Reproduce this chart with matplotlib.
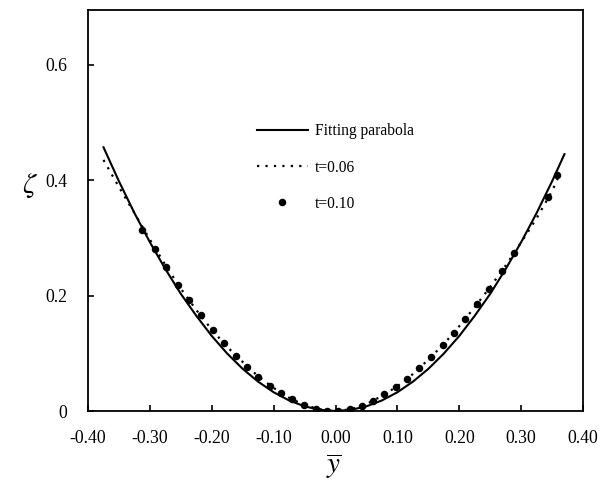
import matplotlib
matplotlib.use("Agg")
import matplotlib.pyplot as plt

plt.rcParams['font.family'] = ['Liberation Serif', 'DejaVu Serif']
plt.rcParams['mathtext.fontset'] = 'stix'

# Fitting parabola
fit_x = [-0.375, -0.35, -0.325, -0.30, -0.275, -0.25, -0.225, -0.20, -0.175, -0.15,
         -0.125, -0.10, -0.075, -0.05, -0.025, 0.0, 0.025, 0.05, 0.075, 0.10,
         0.125, 0.15, 0.175, 0.20, 0.225, 0.25, 0.275, 0.30, 0.325, 0.35, 0.37]
fit_z = [0.457, 0.398, 0.343, 0.2925, 0.246, 0.203, 0.165, 0.130, 0.0995, 0.073,
         0.0508, 0.0325, 0.0183, 0.0081, 0.002, 0.0, 0.002, 0.0081, 0.0183, 0.0325,
         0.0508, 0.073, 0.0995, 0.130, 0.165, 0.203, 0.246, 0.2925, 0.343, 0.398, 0.445]

# t = 0.06 (dotted)
t06_x = [-0.375, -0.35, -0.325, -0.30, -0.275, -0.25, -0.225, -0.20, -0.175, -0.15,
         -0.125, -0.10, -0.075, -0.05, -0.025, 0.0, 0.025, 0.05, 0.075, 0.10,
         0.125, 0.15, 0.175, 0.20, 0.225, 0.25, 0.275, 0.30, 0.325, 0.35, 0.362]
t06_z = [0.435, 0.388, 0.343, 0.297, 0.253, 0.212, 0.175, 0.141, 0.111, 0.085,
         0.060, 0.040, 0.023, 0.010, 0.003, 0.0, 0.003, 0.012, 0.026, 0.043,
         0.064, 0.089, 0.116, 0.147, 0.180, 0.215, 0.252, 0.292, 0.334, 0.381, 0.410]

# t = 0.10 (dots)
t10_x = [-0.312, -0.292, -0.274, -0.255, -0.237, -0.218, -0.198, -0.180, -0.161, -0.143,
         -0.125, -0.106, -0.088, -0.070, -0.051, -0.032, -0.014, 0.004, 0.023, 0.042,
         0.060, 0.079, 0.097, 0.116, 0.135, 0.154, 0.173, 0.192, 0.210, 0.229,
         0.248, 0.269, 0.288, 0.343, 0.358]
t10_z = [0.313, 0.281, 0.249, 0.219, 0.192, 0.166, 0.141, 0.118, 0.096, 0.077,
         0.059, 0.044, 0.031, 0.020, 0.010, 0.004, 0.0005, 0.0, 0.003, 0.009,
         0.017, 0.029, 0.041, 0.055, 0.074, 0.093, 0.114, 0.136, 0.160, 0.186,
         0.212, 0.242, 0.274, 0.371, 0.409]

xticks = [-0.40, -0.30, -0.20, -0.10, 0.00, 0.10, 0.20, 0.30, 0.40]
xticklabels = ['-0.40', '-0.30', '-0.20', '-0.10', '0.00', '0.10', '0.20', '0.30', '0.40']
yticks = [0, 0.2, 0.4, 0.6]
yticklabels = ['0', '0.2', '0.4', '0.6']

fig = plt.figure(figsize=(6.0, 4.94), dpi=100)
ax = fig.add_axes([0.1467, 0.168, 0.825, 0.812])

ax.plot(fit_x, fit_z, color='black', lw=1.5, label='Fitting parabola')
ax.plot(t06_x, t06_z, color='black', lw=1.6, linestyle=(0, (1.0, 2.8)), label='t=0.06')
ax.plot(t10_x, t10_z, linestyle='none', marker='o', color='black', markersize=4.4,
        label='t=0.10')

ax.set_xlim(-0.4, 0.4)
ax.set_ylim(0, 0.695)
ax.set_xticks(xticks)
ax.set_xticklabels(xticklabels)
ax.set_yticks(yticks)
ax.set_yticklabels(yticklabels)
ax.tick_params(direction='in', length=4, width=1.2, labelsize=12.8)
ax.tick_params(axis='x', pad=14)
ax.tick_params(axis='y', pad=15)
for s in ax.spines.values():
    s.set_linewidth(1.3)

ax.text(-0.117, 0.563, r'$\zeta$', transform=ax.transAxes, fontsize=21,
        ha='center', va='center')
ax.text(0.497, -0.137, r'$\overline{y}$', transform=ax.transAxes, fontsize=21,
        ha='center', va='center')

leg = ax.legend(loc='upper left', bbox_to_anchor=(0.341, 0.717), frameon=False,
                fontsize=11.2, handlelength=3.3, handletextpad=0.45,
                labelspacing=1.3, borderpad=0, borderaxespad=0)

fig.savefig('out.png', dpi=100)
